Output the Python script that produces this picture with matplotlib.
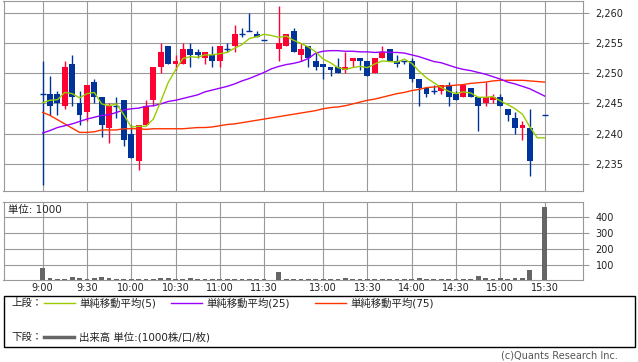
import matplotlib
matplotlib.use("Agg")
import matplotlib.pyplot as plt
from matplotlib.lines import Line2D
from matplotlib.patches import Rectangle

plt.rcParams['font.family'] = ['DejaVu Sans', 'Noto Sans CJK JP']

# 5-minute bars, 9:00 .. 15:30 (one empty slot for the lunch break, none at 15:25)
opens = [2246.5, 2246.5, 2246.5, 2244.5, 2251.5, 2245.0, 2243.5, 2248.5, 2246.0, 2241.0,
         2244.5, 2245.5, 2240.0, 2235.5, 2241.5, 2245.5, 2251.0, 2254.5, 2251.5, 2251.5,
         2254.0, 2253.5, 2252.5, 2253.0, 2252.0, 2254.0, 2254.5, 2256.5, 2257.0, 2256.5,
         2255.5, None, 2254.0, 2254.5, 2257.0, 2253.0, 2254.5, 2252.0, 2251.5, 2251.0,
         2251.0, 2250.5, 2252.0, 2252.5, 2252.0, 2250.0, 2252.5, 2254.0, 2252.0, 2252.0,
         2252.0, 2249.0, 2247.5, 2247.0, 2247.0, 2248.0, 2246.5, 2246.0, 2247.5, 2246.0,
         2245.0, 2245.5, 2246.0, 2244.0, 2242.5, 2241.0, 2241.0, None, 2243.0]
highs = [2252.0, 2249.5, 2247.0, 2252.0, 2253.0, 2247.0, 2248.0, 2249.0, 2246.0, 2245.0,
         2246.0, 2245.5, 2241.5, 2241.5, 2245.5, 2251.0, 2255.0, 2254.5, 2253.0, 2255.0,
         2255.0, 2254.0, 2253.5, 2254.5, 2254.5, 2255.0, 2258.0, 2257.5, 2260.0, 2257.0,
         2255.5, None, 2261.0, 2256.5, 2257.5, 2255.0, 2254.5, 2253.5, 2251.5, 2251.0,
         2252.5, 2253.5, 2252.5, 2252.5, 2252.0, 2252.5, 2254.5, 2254.0, 2253.0, 2252.0,
         2252.5, 2249.0, 2247.5, 2248.0, 2248.0, 2248.5, 2247.0, 2248.0, 2247.5, 2246.0,
         2248.5, 2246.5, 2246.5, 2244.0, 2243.5, 2242.0, 2244.0, None, 2243.0]
lows = [2231.5, 2243.0, 2243.0, 2244.0, 2244.5, 2241.5, 2242.0, 2245.0, 2239.5, 2238.5,
        2242.5, 2238.0, 2236.0, 2234.0, 2241.5, 2244.5, 2250.0, 2251.5, 2250.5, 2251.5,
        2251.0, 2252.5, 2251.5, 2251.0, 2251.0, 2253.5, 2253.5, 2256.0, 2257.0, 2256.0,
        2255.5, None, 2252.0, 2254.5, 2253.5, 2252.0, 2251.0, 2250.5, 2249.0, 2249.5,
        2250.0, 2250.0, 2251.0, 2250.5, 2249.5, 2250.0, 2252.5, 2252.0, 2251.0, 2251.5,
        2248.5, 2244.5, 2246.0, 2246.5, 2246.5, 2244.5, 2245.5, 2246.0, 2246.0, 2240.5,
        2244.5, 2245.0, 2244.5, 2242.0, 2240.0, 2239.0, 2233.0, None, 2243.0]
closes = [2246.5, 2244.5, 2245.0, 2251.0, 2246.0, 2243.0, 2248.0, 2246.0, 2241.5, 2244.5,
          2244.5, 2239.0, 2236.0, 2241.5, 2244.5, 2251.0, 2253.5, 2251.5, 2252.0, 2254.0,
          2253.0, 2253.0, 2253.5, 2252.0, 2254.5, 2254.0, 2256.5, 2256.5, 2257.0, 2256.0,
          2255.5, None, 2255.0, 2256.5, 2253.5, 2254.0, 2252.5, 2251.0, 2251.0, 2250.5,
          2250.0, 2251.0, 2252.5, 2252.0, 2249.5, 2252.5, 2253.5, 2252.0, 2251.5, 2252.0,
          2249.0, 2247.5, 2246.5, 2247.0, 2248.0, 2246.0, 2245.5, 2248.0, 2246.0, 2244.5,
          2246.0, 2246.0, 2244.5, 2243.0, 2241.0, 2241.5, 2235.5, None, 2243.0]
volumes = [82, 22, 16, 16, 28, 22, 16, 22, 28, 22,
           16, 16, 16, 16, 16, 16, 22, 22, 16, 12,
           22, 12, 12, 16, 12, 12, 16, 12, 16, 16,
           12, 0, 60, 16, 16, 16, 16, 16, 16, 12,
           16, 22, 12, 12, 16, 16, 16, 16, 12, 12,
           16, 22, 12, 12, 12, 16, 12, 12, 16, 33,
           22, 16, 22, 16, 22, 22, 72, 0, 465]
sma5 = [2245.1, 2245.5, 2245.6, 2246.8, 2246.6, 2245.9, 2246.6, 2246.8, 2244.9, 2244.6,
        2244.9, 2243.1, 2241.1, 2241.2, 2241.2, 2242.4, 2245.3, 2248.4, 2250.5, 2252.4,
        2252.7, 2252.6, 2253.0, 2253.0, 2253.2, 2253.4, 2254.1, 2254.7, 2255.7, 2256.0,
        2256.4, 2256.2, 2255.9, 2256.1, 2255.4, 2254.9, 2254.3, 2253.5, 2252.3, 2251.7,
        2250.9, 2250.6, 2250.9, 2251.1, 2250.9, 2251.5, 2252.0, 2251.9, 2251.8, 2252.3,
        2251.6, 2250.3, 2249.2, 2248.4, 2247.6, 2247.0, 2246.6, 2246.9, 2246.7, 2246.0,
        2246.0, 2246.1, 2245.4, 2244.8, 2244.1, 2243.2, 2241.1, 2239.3, 2239.3]
sma25 = [2240.1, 2240.5, 2241.0, 2241.3, 2241.6, 2242.0, 2242.4, 2242.7, 2243.0, 2243.1,
         2243.5, 2243.9, 2244.1, 2244.2, 2244.5, 2244.6, 2244.9, 2245.3, 2245.5, 2245.8,
         2246.1, 2246.4, 2246.9, 2247.2, 2247.5, 2247.8, 2248.2, 2248.7, 2249.1, 2249.6,
         2250.1, 2250.7, 2251.1, 2251.4, 2251.6, 2251.9, 2252.4, 2253.3, 2253.6, 2253.7,
         2253.7, 2253.6, 2253.6, 2253.5, 2253.5, 2253.4, 2253.5, 2253.4, 2253.4, 2253.3,
         2253.0, 2252.7, 2252.3, 2251.9, 2251.7, 2251.3, 2250.9, 2250.6, 2250.4, 2250.1,
         2249.8, 2249.4, 2249.0, 2248.5, 2248.2, 2247.8, 2247.4, 2246.8, 2246.2]
sma75 = [2243.5, 2243.0, 2242.3, 2241.6, 2240.9, 2240.2, 2240.2, 2240.3, 2240.6, 2240.6,
         2240.6, 2240.8, 2240.8, 2240.8, 2240.7, 2240.8, 2240.8, 2240.8, 2240.8, 2240.8,
         2240.9, 2241.0, 2241.0, 2241.1, 2241.3, 2241.5, 2241.6, 2241.8, 2242.0, 2242.2,
         2242.4, 2242.6, 2242.8, 2243.0, 2243.2, 2243.4, 2243.6, 2243.8, 2244.1, 2244.3,
         2244.4, 2244.6, 2244.9, 2245.2, 2245.5, 2245.7, 2246.0, 2246.3, 2246.6, 2246.8,
         2247.1, 2247.3, 2247.6, 2247.7, 2247.8, 2247.9, 2248.0, 2248.1, 2248.3, 2248.4,
         2248.5, 2248.7, 2248.8, 2248.8, 2248.8, 2248.8, 2248.7, 2248.6, 2248.5]

tick_slots = [0, 6, 12, 18, 24, 30, 38, 44, 50, 56, 62, 68]
tick_labels = ['9:00', '9:30', '10:00', '10:30', '11:00', '11:30',
               '13:00', '13:30', '14:00', '14:30', '15:00', '15:30']
price_ticks = [2235, 2240, 2245, 2250, 2255, 2260]
vol_ticks = [100, 200, 300, 400]

UP = '#ff0033'
DOWN = '#003399'
GRID = '#999999'
W, H = 638, 362


def fx(px):
    return px / W


def fy(py):
    return 1 - py / H


fig = plt.figure(figsize=(6.38, 3.62), dpi=100)
ax = fig.add_axes([fx(3.5), fy(190.5), fx(579.5), (190.5 - 1) / H])
ax2 = fig.add_axes([fx(3.5), fy(280), fx(579.5), (280 - 201.5) / H])

BODY = 0.8
for i, (o, h, l, c) in enumerate(zip(opens, highs, lows, closes)):
    if o is None:
        continue
    col = UP if c > o else DOWN
    ax.vlines(i, l, h, color=col, lw=1, zorder=3)
    if c == o:
        ax.hlines(c, i - BODY / 2, i + BODY / 2, color=col, lw=1, zorder=3)
    else:
        ax.bar(i, abs(c - o), bottom=min(o, c), width=BODY, color=col, lw=0, zorder=3)

x = list(range(len(sma5)))
ax.plot(x, sma75, color='#ff3300', lw=1, zorder=4)
ax.plot(x, sma25, color='#9900ff', lw=1, zorder=4)
ax.plot(x, sma5, color='#99cc00', lw=1, zorder=4)

ax2.bar(x, volumes, width=0.65, color='#666666', lw=0, zorder=3)

for a in (ax, ax2):
    a.set_xlim(-5.3, 73.2)
    a.set_xticks(tick_slots)
    a.set_axisbelow(True)
    a.grid(True, color=GRID, lw=0.8)
    a.yaxis.tick_right()
    a.tick_params(axis='y', length=4, color=GRID, width=0.8, pad=5, labelsize=7,
                  labelcolor='#222222')
    for s in a.spines.values():
        s.set_color(GRID)
        s.set_linewidth(0.8)

ax.set_ylim(2230.6, 2261.9)
ax.set_yticks(price_ticks)
ax.set_yticklabels([f'{v:,}' for v in price_ticks])
ax.tick_params(axis='x', length=0, labelbottom=False)

ax2.set_ylim(7, 500)
ax2.set_yticks(vol_ticks)
ax2.tick_params(axis='x', length=0, pad=2, labelsize=7, labelcolor='#222222')
ax2.set_xticklabels(tick_labels)
ax2.text(fx(8), fy(209.5), '単位: 1000', transform=fig.transFigure, fontsize=7.5,
         va='center', ha='left', color='#222222')

# legend box
fig.patches.append(Rectangle((fx(3.5), fy(346.5)), fx(631), (346.5 - 295.5) / H,
                             transform=fig.transFigure, fill=False, ec='black', lw=1))
fig.text(fx(11), fy(303), '上段：', fontsize=7.5, va='center', color='#222222')
fig.text(fx(11), fy(337), '下段：', fontsize=7.5, va='center', color='#222222')
legend_items = [(43.5, '#99cc00', '単純移動平均(5)'),
                (171, '#9900ff', '単純移動平均(25)'),
                (315, '#ff3300', '単純移動平均(75)')]
for x0, col, label in legend_items:
    fig.lines.append(Line2D([fx(x0), fx(x0 + 31)], [fy(303), fy(303)],
                            transform=fig.transFigure, color=col, lw=1))
    fig.text(fx(x0 + 35.5), fy(303), label, fontsize=7.5, va='center', color='#222222')
fig.lines.append(Line2D([fx(43.5), fx(74)], [fy(337), fy(337)],
                        transform=fig.transFigure, color='#666666', lw=2.5))
fig.text(fx(79), fy(337), '出来高 単位:(1000株/口/枚)', fontsize=7.5, va='center',
         color='#222222')

fig.text(fx(618), fy(355), '(c)Quants Research Inc.', fontsize=7, ha='right',
         va='center', color='#555555')

fig.savefig('out.png', dpi=100)
